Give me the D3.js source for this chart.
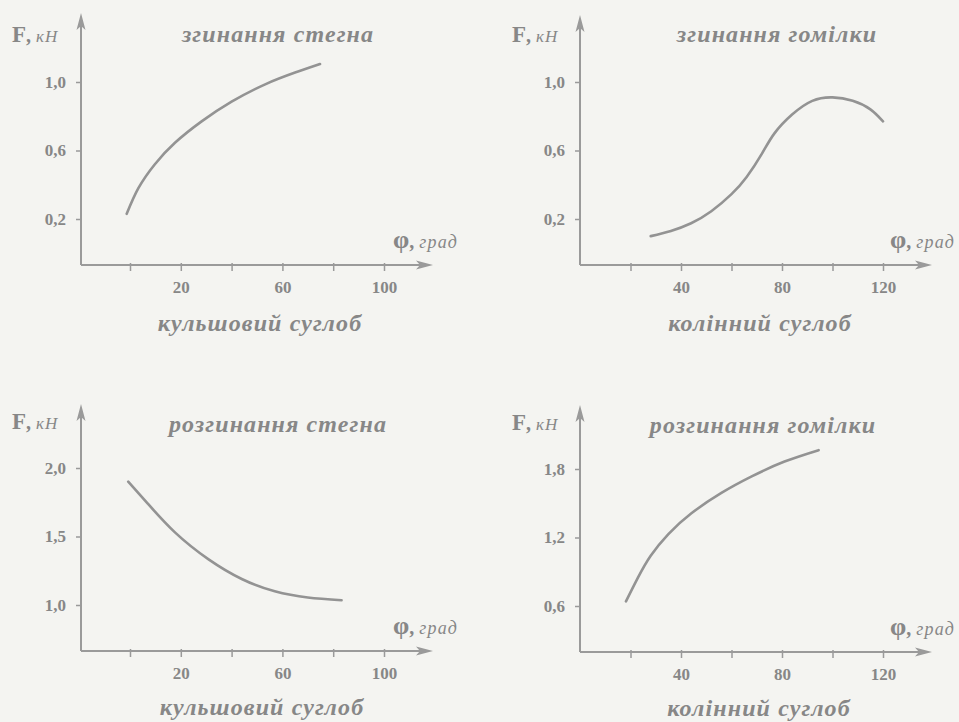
<!DOCTYPE html>
<html>
<head>
<meta charset="utf-8">
<script src="https://cdn.jsdelivr.net/npm/d3@7"></script>
<style>
  body { margin: 0; background: #f4f4f1; }
  svg { display: block; }
  text { font-family: "Liberation Serif", "DejaVu Serif", serif; fill: #878787; }
</style>
</head>
<body>
<svg id="svg1" width="959" height="722"></svg>
<script>
// data: [angle in degrees, force in kN]
const hipFlexion = [[-1.3,0.23],[3.3,0.38],[9.8,0.52],[17.7,0.645],[28.2,0.77],[40,0.885],[53,0.985],[65,1.055],[74.8,1.105]];
const kneeFlexion = [[28,0.10],[36,0.13],[44,0.175],[52,0.245],[60,0.345],[66,0.445],[72,0.58],[77,0.70],[84,0.81],[92,0.89],[100,0.91],[108,0.89],[115,0.84],[120,0.77]];
const hipExtension = [[-0.7,1.90],[7,1.74],[17.7,1.53],[30.8,1.335],[44,1.19],[57,1.10],[70,1.055],[83.3,1.035]];
const kneeExtension = [[18.2,0.64],[23,0.85],[28,1.04],[35,1.23],[44,1.41],[56,1.59],[68,1.735],[81,1.865],[94.5,1.965]];

const titles = ["згинання стегна", "згинання гомілки", "розгинання стегна", "розгинання гомілки"];
const jointNames = ["кульшовий суглоб", "колінний суглоб", "кульшовий суглоб", "колінний суглоб"];
const yTicks = [[0.2, 0.6, 1.0], [0.2, 0.6, 1.0], [1.0, 1.5, 2.0], [0.6, 1.2, 1.8]];
const yTickText = [["0,2","0,6","1,0"], ["0,2","0,6","1,0"], ["1,0","1,5","2,0"], ["0,6","1,2","1,8"]];
const hipXTicks = [0, 20, 40, 60, 80, 100];
const hipXLabels = [20, 60, 100];
const kneeXTicks = [20, 40, 60, 80, 100, 120];
const kneeXLabels = [40, 80, 120];

const series = [hipFlexion, kneeFlexion, hipExtension, kneeExtension];

const grey = '#9a9a9a';
const svg = d3.select('#svg1');

// panel origins (where the two axes cross)
const panels = [
  {ox: 81, oy: 265, up: 252, hip: true, fx: 12, tx: 278, jx: 260},
  {ox: 580, oy: 265, up: 250, hip: false, fx: 512, tx: 777, jx: 760},
  {ox: 81, oy: 651, up: 247, hip: true, fx: 12, tx: 278, jx: 262},
  {ox: 580, oy: 652, up: 247, hip: false, fx: 512, tx: 763, jx: 759}
];

panels.forEach((p, i) => {
  const g = svg.append('g').attr('transform', `translate(${p.ox},${p.oy})`);

  const x = p.hip
    ? d3.scaleLinear().domain([0, 100]).range([49, 303])
    : d3.scaleLinear().domain([0, 120]).range([0, 303]);
  const y = d3.scaleLinear().domain([yTicks[i][0], yTicks[i][2]]).range([-46, -183]);

  // axes lines with arrows
  g.append('line').attr('x1', 0).attr('y1', 0).attr('x2', 348).attr('y2', 0)
    .attr('stroke', grey).attr('stroke-width', 2);
  g.append('path').attr('d', 'M352,0 L335,-4.5 L339,0 L335,4.5 Z').attr('fill', grey);
  g.append('line').attr('x1', 0).attr('y1', 0).attr('x2', 0).attr('y2', -p.up + 4)
    .attr('stroke', grey).attr('stroke-width', 2);
  g.append('path').attr('d', `M0,${-p.up} L-4.5,${-p.up + 17} L0,${-p.up + 13} L4.5,${-p.up + 17} Z`).attr('fill', grey);

  // x ticks
  const xTicks = p.hip ? hipXTicks : kneeXTicks;
  const xLabels = p.hip ? hipXLabels : kneeXLabels;
  const xAxis = d3.axisBottom(x).tickValues(xTicks).tickSize(6).tickPadding(10)
    .tickFormat(d => xLabels.includes(d) ? d : '');
  const gx = g.append('g').call(xAxis);
  gx.select('.domain').remove();
  gx.selectAll('line').attr('stroke', grey).attr('stroke-width', 1.5).attr('y1', -2);
  gx.selectAll('text').attr('font-size', 17).attr('font-weight', 'bold')
    .attr('font-family', '"Liberation Serif", serif').attr('fill', '#878787');

  // y ticks
  const yAxis = d3.axisLeft(y).tickValues(yTicks[i]).tickSize(5).tickPadding(10)
    .tickFormat((d, k) => yTickText[i][k]);
  const gy = g.append('g').call(yAxis);
  gy.select('.domain').remove();
  gy.selectAll('line').attr('stroke', grey).attr('stroke-width', 1.5);
  gy.selectAll('text').attr('font-size', 17).attr('font-weight', 'bold')
    .attr('font-family', '"Liberation Serif", serif').attr('fill', '#878787');

  // curve
  const line = d3.line().x(d => x(d[0])).y(d => y(d[1])).curve(d3.curveNatural);
  g.append('path').datum(series[i]).attr('d', line)
    .attr('fill', 'none').attr('stroke', '#939393').attr('stroke-width', 2.6)
    .attr('stroke-linecap', 'round');

  // F, кН label
  const fl = g.append('text').attr('x', p.fx - p.ox).attr('y', i < 2 ? -223 : -222);
  fl.append('tspan').text('F').attr('font-size', 23).attr('font-weight', 'bold');
  fl.append('tspan').text(', ').attr('font-size', 20).attr('font-weight', 'bold');
  fl.append('tspan').text('кН').attr('font-size', 17).attr('font-style', 'italic').attr('letter-spacing', 1);

  // φ, град label
  const pl = g.append('text').attr('x', p.hip ? 312 : 310).attr('y', -17);
  pl.append('tspan').text('φ').attr('font-size', 26).attr('font-weight', 'bold');
  pl.append('tspan').text(', ').attr('font-size', 20).attr('font-weight', 'bold');
  pl.append('tspan').text('град').attr('font-size', 18).attr('font-style', 'italic').attr('letter-spacing', 1.2);

  // title
  g.append('text').attr('x', p.tx - p.ox).attr('y', i < 2 ? -223 : -219)
    .attr('text-anchor', 'middle').attr('font-size', 24).attr('letter-spacing', 1.1)
    .attr('font-weight', 'bold').attr('font-style', 'italic').text(titles[i]);

  // joint name
  g.append('text').attr('x', p.jx - p.ox).attr('y', i < 2 ? 66 : 64)
    .attr('text-anchor', 'middle').attr('font-size', 24).attr('letter-spacing', 1.1)
    .attr('font-weight', 'bold').attr('font-style', 'italic').text(jointNames[i]);
});
</script>
</body>
</html>
